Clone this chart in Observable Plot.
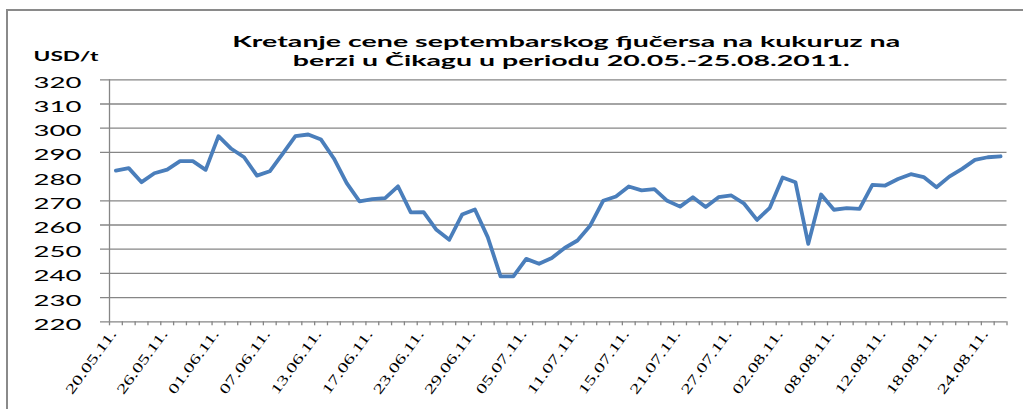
<!DOCTYPE html>
<html>
<head>
<meta charset="utf-8">
<script src="https://cdn.jsdelivr.net/npm/d3@7"></script>
<script src="https://cdn.jsdelivr.net/npm/@observablehq/plot@0.6"></script>
<style>
  body { margin: 0; background: #fff; }
  #wrap { position: relative; width: 1032px; height: 409px; overflow: hidden; }
  #border { position: absolute; left: 6px; top: 9px; width: 1015px; height: 420px;
            border-left: 2px solid #8a8a8a; border-top: 2px solid #8a8a8a; pointer-events: none; }
  #wrap svg { position: absolute; left: 0; top: 0; }
</style>
</head>
<body>
<div id="wrap"><div id="border"></div></div>
<script>
// ---- data ----
const dates = [
  "20.05.11.","23.05.11.","24.05.11.","25.05.11.","26.05.11.","27.05.11.","30.05.11.","31.05.11.",
  "01.06.11.","02.06.11.","03.06.11.","06.06.11.","07.06.11.","08.06.11.","09.06.11.","10.06.11.",
  "13.06.11.","14.06.11.","15.06.11.","16.06.11.","17.06.11.","20.06.11.","21.06.11.","22.06.11.",
  "23.06.11.","24.06.11.","27.06.11.","28.06.11.","29.06.11.","30.06.11.","01.07.11.","04.07.11.",
  "05.07.11.","06.07.11.","07.07.11.","08.07.11.","11.07.11.","12.07.11.","13.07.11.","14.07.11.",
  "15.07.11.","18.07.11.","19.07.11.","20.07.11.","21.07.11.","22.07.11.","25.07.11.","26.07.11.",
  "27.07.11.","28.07.11.","29.07.11.","01.08.11.","02.08.11.","03.08.11.","04.08.11.","05.08.11.",
  "08.08.11.","09.08.11.","10.08.11.","11.08.11.","12.08.11.","15.08.11.","16.08.11.","17.08.11.",
  "18.08.11.","19.08.11.","22.08.11.","23.08.11.","24.08.11.","25.08.11."
];
const prices = [
  282.5, 283.5, 277.7, 281.4, 282.9, 286.4, 286.4, 282.8,
  296.7, 291.5, 288.0, 280.4, 282.2, 289.4, 296.7, 297.4,
  295.3, 287.5, 277.3, 269.8, 270.7, 271.1, 276.0, 265.2,
  265.3, 258.0, 253.9, 264.3, 266.4, 255.0, 238.8, 238.8,
  246.0, 244.0, 246.4, 250.5, 253.6, 259.8, 270.0, 271.8,
  275.9, 274.3, 274.8, 270.0, 267.6, 271.5, 267.4, 271.5,
  272.2, 268.8, 262.1, 267.1, 279.6, 277.7, 252.2, 272.6,
  266.3, 267.0, 266.7, 276.6, 276.3, 279.0, 281.0, 279.8,
  275.6, 280.0, 283.2, 286.9, 288.0, 288.4
];
const labelDates = [
  "20.05.11.","26.05.11.","01.06.11.","07.06.11.","13.06.11.","17.06.11.","23.06.11.","29.06.11.",
  "05.07.11.","11.07.11.","15.07.11.","21.07.11.","27.07.11.","02.08.11.","08.08.11.","12.08.11.",
  "18.08.11.","24.08.11."
];
const yTicks = [220, 230, 240, 250, 260, 270, 280, 290, 300, 310, 320];
const gridValues = [220, 230, 240, 250, 260, 270, 290, 300, 310, 320];
const titleLines = [
  "Kretanje cene septembarskog fjučersa na kukuruz na",
  "berzi u Čikagu u periodu 20.05.-25.08.2011."
];
const yUnit = "USD/t";

// ---- tables ----
const rows = dates.map((d, i) => ({date: d, idx: i, price: prices[i]}));
const labelRows = rows.filter(r => labelDates.includes(r.date));
const boundaries = d3.range(dates.length + 1);

const gray = "#868686";
const sans = "Lato, 'Open Sans', sans-serif";

const chart = Plot.plot({
  width: 1032,
  height: 409,
  marginLeft: 109,
  marginRight: 25.5,
  marginTop: 79.3,
  marginBottom: 87.7,
  x: {type: "linear", domain: [0, dates.length], axis: null},
  y: {domain: [220, 320], axis: null},
  style: {background: "transparent", fontFamily: sans, color: "#000"},
  marks: [
    Plot.ruleY(gridValues, {stroke: gray, strokeWidth: 1.3, insetLeft: -9}),
    Plot.ruleX([0], {stroke: gray, strokeWidth: 1.3}),
    Plot.axisX({ticks: boundaries, tickSize: 4, tickFormat: () => "", stroke: gray, strokeWidth: 1.3}),
    Plot.line(rows, {x: r => r.idx + 0.5, y: "price", stroke: "#4a7ebb", strokeWidth: 3.8,
                     strokeLinejoin: "round", strokeLinecap: "round"}),
    Plot.text(yTicks, {frameAnchor: "left", y: d => d, text: d => String(d), dx: -28, dy: 3,
                       textAnchor: "end", fontSize: 15.5, fill: "#000"}),
    Plot.text(labelRows, {x: r => r.idx + 0.5, frameAnchor: "bottom", text: "date", rotate: -54,
                          textAnchor: "end", dx: 1, dy: 12, fontSize: 14,
                          fontFamily: "'Liberation Serif', serif", fill: "#000"}),
    Plot.text([yUnit], {frameAnchor: "top-left", dx: -76, dy: -29, textAnchor: "start",
                        fontWeight: "bold", fontSize: 14, fill: "#000"}),
    Plot.text([titleLines[0]], {frameAnchor: "top", dx: 8, dy: -44, fontWeight: "bold",
                                fontSize: 16, fill: "#000"}),
    Plot.text([titleLines[1]], {frameAnchor: "top", dx: 13, dy: -25, fontWeight: "bold",
                                fontSize: 16, fill: "#000"})
  ]
});

// stretch texts horizontally, as in the reference
const lengths = new Map();
yTicks.forEach(v => lengths.set(String(v), 48));
labelDates.forEach(d => lengths.set(d, 76));
lengths.set(yUnit, 65);
lengths.set(titleLines[0], 668);
lengths.set(titleLines[1], 557);
chart.querySelectorAll("text").forEach(t => {
  const len = lengths.get(t.textContent.trim());
  if (len) {
    t.setAttribute("textLength", len);
    t.setAttribute("lengthAdjust", "spacingAndGlyphs");
  }
});

document.getElementById("wrap").appendChild(chart);
</script>
</body>
</html>
